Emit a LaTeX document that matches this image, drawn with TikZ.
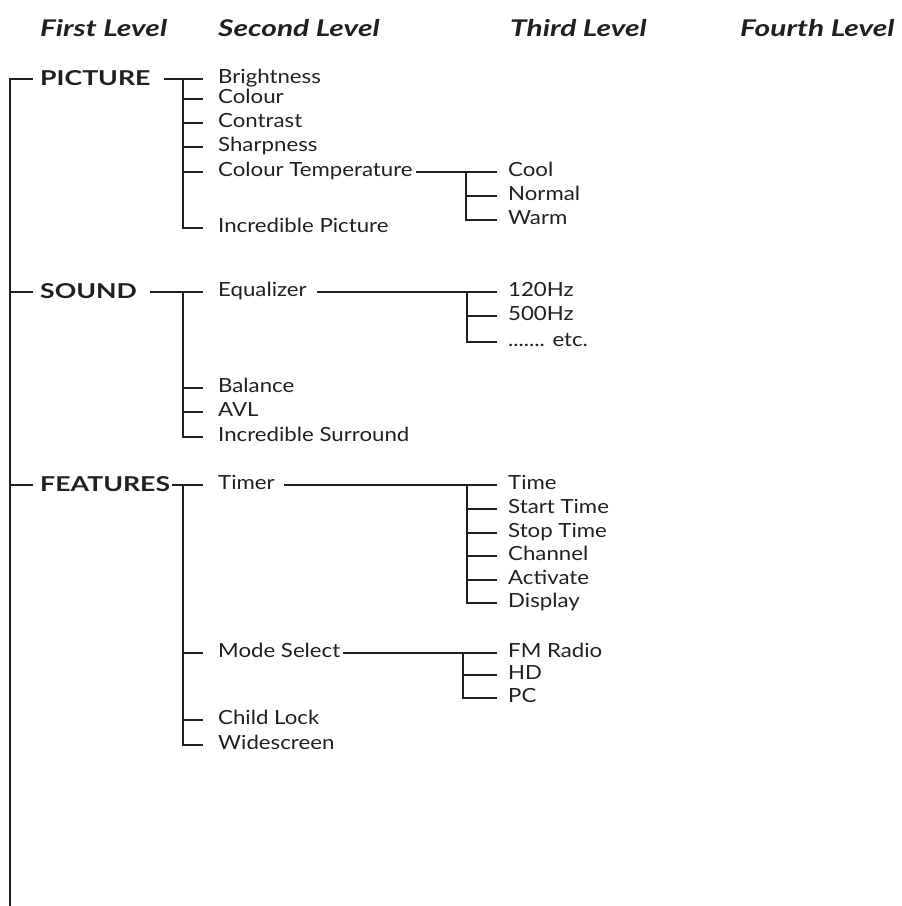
\documentclass[tikz,border=0pt]{standalone}
\usepackage{fontspec}
\setmainfont{Lato}[FakeStretch=1.14]
\newfontfamily\headfont{Lato}[FakeStretch=1.3]
\usetikzlibrary{calc}
\definecolor{ink}{HTML}{231F20}
\begin{document}
\begin{tikzpicture}[x=1pt,y=-1pt,
  wire/.style={draw=ink,line width=1.1pt},
  head/.style={anchor=base west,inner sep=0,font=\headfont\fontsize{23}{26}\selectfont\bfseries\itshape,text=ink},
  lvlone/.style={anchor=west,inner sep=0,text height=14pt,text depth=2pt,font=\headfont\fontsize{20.5}{24}\selectfont\bfseries,text=ink},
  item/.style={anchor=west,inner sep=0,text height=12.5pt,text depth=3.5pt,font=\fontsize{19.5}{22}\selectfont,text=ink}]
\useasboundingbox (0,0) rectangle (902,906);
% headers
\node[head] (h1) at (40,36) {First Level};
\node[head] (h2) at (218,36) {Second Level};
\node[head] (h3) at (510,36) {Third Level};
\node[head] (h4) at (740,36) {Fourth Level};
% main spine
\coordinate (root) at (10,906);
\node[lvlone] (pic) at (40,79) {PICTURE};
\node[lvlone] (snd) at (40,292) {SOUND};
\node[lvlone] (fea) at (40,485) {FEATURES};
\draw[wire] (root) |- ([xshift=-7pt]pic.west);
\draw[wire] (root |- snd) -- ([xshift=-7pt]snd.west);
\draw[wire] (root |- fea) -- ([xshift=-7pt]fea.west);
% PICTURE subtree
\coordinate (jp) at (183,79);
\node[item] (bri) at (218,79) {Brightness};
\node[item] (col) at (218,99) {Colour};
\node[item] (con) at (218,123) {Contrast};
\node[item] (sha) at (218,147) {Sharpness};
\node[item] (ctm) at (218,172) {Colour Temperature};
\node[item] (inp) at (218,228) {Incredible Picture};
\draw[wire] ([xshift=13pt]pic.east) -- (jp) -- ([xshift=-15pt]bri.west);
\draw[wire] (jp) |- ([xshift=-15pt]inp.west);
\foreach \n in {col,con,sha,ctm} \draw[wire] (jp |- \n) -- ([xshift=-15pt]\n.west);
% Colour temperature
\coordinate (jct) at (466,172);
\node[item] (coo) at (508,172) {Cool};
\node[item] (nor) at (508,196) {Normal};
\node[item] (war) at (508,220) {Warm};
\draw[wire] ([xshift=3pt]ctm.east) -- ([xshift=-11pt]coo.west);
\draw[wire] (jct) |- ([xshift=-11pt]war.west);
\draw[wire] (jct |- nor) -- ([xshift=-11pt]nor.west);
% SOUND subtree
\coordinate (js) at (183,292);
\node[item] (equ) at (218,292) {Equalizer};
\node[item] (bal) at (218,388) {Balance};
\node[item] (avl) at (218,412) {AVL};
\node[item] (ins) at (218,437) {Incredible Surround};
\draw[wire] ([xshift=13pt]snd.east) -- (js) -- ([xshift=-15pt]equ.west);
\draw[wire] (js) |- ([xshift=-15pt]ins.west);
\foreach \n in {bal,avl} \draw[wire] (js |- \n) -- ([xshift=-15pt]\n.west);
% Equalizer
\coordinate (jeq) at (467,292);
\node[item] (f120) at (508,292) {120Hz};
\node[item] (f500) at (508,316) {500Hz};
\node[item] (etc) at (508,342) {....... etc.};
\draw[wire] ([xshift=10pt]equ.east) -- ([xshift=-11pt]f120.west);
\draw[wire] (jeq) |- ([xshift=-11pt]etc.west);
\draw[wire] (jeq |- f500) -- ([xshift=-11pt]f500.west);
% FEATURES subtree
\coordinate (jf) at (183,485);
\node[item] (tim) at (218,485) {Timer};
\node[item] (mod) at (218,653) {Mode Select};
\node[item] (chl) at (218,720) {Child Lock};
\node[item] (wid) at (218,745) {Widescreen};
\draw[wire] ([xshift=2pt]fea.east) -- (jf) -- ([xshift=-15pt]tim.west);
\draw[wire] (jf) |- ([xshift=-15pt]wid.west);
\foreach \n in {mod,chl} \draw[wire] (jf |- \n) -- ([xshift=-15pt]\n.west);
% Timer
\coordinate (jti) at (467,485);
\node[item] (t1) at (508,485) {Time};
\node[item] (t2) at (508,509) {Start Time};
\node[item] (t3) at (508,533) {Stop Time};
\node[item] (t4) at (508,556) {Channel};
\node[item] (t5) at (508,580) {Activate};
\node[item] (t6) at (508,603) {Display};
\draw[wire] ([xshift=9pt]tim.east) -- ([xshift=-11pt]t1.west);
\draw[wire] (jti) |- ([xshift=-11pt]t6.west);
\foreach \n in {t2,t3,t4,t5} \draw[wire] (jti |- \n) -- ([xshift=-11pt]\n.west);
% Mode select
\coordinate (jmo) at (463,653);
\node[item] (m1) at (508,653) {FM Radio};
\node[item] (m2) at (508,675) {HD};
\node[item] (m3) at (508,698) {PC};
\draw[wire] ([xshift=3pt]mod.east) -- ([xshift=-11pt]m1.west);
\draw[wire] (jmo) |- ([xshift=-11pt]m3.west);
\draw[wire] (jmo |- m2) -- ([xshift=-11pt]m2.west);
\end{tikzpicture}
\end{document}
